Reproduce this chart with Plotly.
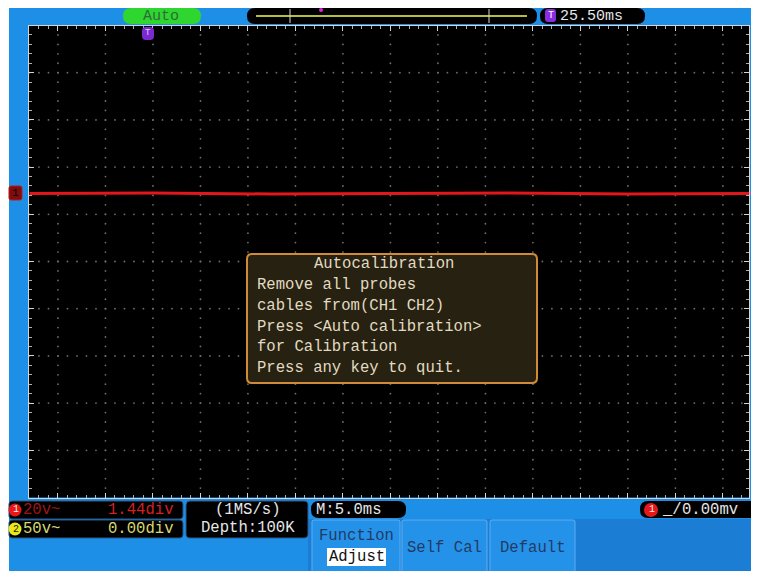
import plotly.graph_objects as go

# -------------------------
# data
# -------------------------
PAGE_W, PAGE_H = 759, 571
OFF = 8  # browser body margin
W, H = PAGE_W - OFF, PAGE_H - OFF

# ch1 trace, in divisions (x: time div from centre, y: volts div from centre)
ch1_time_div = [-7.6, -5.0, -2.5, 0.0, 2.5, 5.0, 7.55]
ch1_level_div = [1.44, 1.45, 1.43, 1.44, 1.45, 1.43, 1.44]

dialog_title = "Autocalibration"
dialog_lines = [
    "Remove all probes",
    "cables from(CH1 CH2)",
    "Press <Auto calibration>",
    "for Calibration",
    "Press any key to quit.",
]

ch_rows = [("1", "20v~", "1.44div"), ("2", "50v~", "0.00div")]
acq_lines = ["(1MS/s)", "Depth:100K"]
timebase = "M:5.0ms"
trig_pos = "25.50ms"
trig_level = "0.00mv"
buttons = ["Self Cal", "Default"]

BLUE = "#1d8fe6"
MONO = "Liberation Mono, DejaVu Sans Mono, monospace"
FS = 15.6  # screen font size


# positions below are page pixels of the reference screenshot
def px(x):
    return (x - OFF) / W


def py(y):
    return 1 - (y - OFF) / H


def rrect(x0, y0, x1, y1, r):
    # rounded rectangle as svg path in paper coords (pixel input)
    p = lambda x, y: f"{px(x):.5f},{py(y):.5f}"
    return (f"M{p(x0 + r, y0)} L{p(x1 - r, y0)} Q{p(x1, y0)} {p(x1, y0 + r)} "
            f"L{p(x1, y1 - r)} Q{p(x1, y1)} {p(x1 - r, y1)} L{p(x0 + r, y1)} "
            f"Q{p(x0, y1)} {p(x0, y1 - r)} L{p(x0, y0 + r)} Q{p(x0, y0)} {p(x0 + r, y0)} Z")


shapes = []
annotations = []


def box(x0, y0, x1, y1, fill, r=0, line=None, lw=1):
    shapes.append(dict(type="path", path=rrect(x0, y0, x1, y1, r), xref="paper", yref="paper",
                       fillcolor=fill, line=dict(color=line or fill, width=lw if line else 0)))


def text(x, y, s, color="#e6e6e6", size=FS, anchor="left", bg=None):
    annotations.append(dict(x=px(x), y=py(y), xref="paper", yref="paper", text=s, showarrow=False,
                            xanchor=anchor, yanchor="middle", bgcolor=bg,
                            font=dict(family=MONO, size=size, color=color)))


def circle(cx, cy, r, fill, label, lcolor):
    shapes.append(dict(type="circle", xref="paper", yref="paper", x0=px(cx - r), x1=px(cx + r),
                       y0=py(cy + r), y1=py(cy - r), fillcolor=fill, line=dict(width=0)))
    text(cx + 0.5, cy, label, lcolor, 10, "center")


fig = go.Figure()

# grid dots (every 0.2 div along each major division line)
gx, gy = [], []
for i in range(-7, 8):
    for k in range(-24, 25):
        gx.append(i); gy.append(k / 5)
for j in range(-4, 5):
    for k in range(-38, 38):
        gx.append(k / 5); gy.append(j)
fig.add_trace(go.Scatter(x=gx, y=gy, mode="markers", hoverinfo="skip",
                         marker=dict(size=1.8, color="#6e6e6e")))

# channel 1 trace
fig.add_trace(go.Scatter(x=ch1_time_div, y=ch1_level_div, mode="lines",
                         line=dict(color="#e3161c", width=3), hoverinfo="skip"))

# thin white strip at the left edge of the capture
box(8, 8, 9, PAGE_H, "white")
# darker band under the soft keys
box(308, 519, PAGE_W, PAGE_H, "#1b7dd4")

# top bar
box(123, 8, 201, 24, "#2fd62f", r=8)
text(161, 16, "Auto", "#2e6b3c", 15, "center")
box(247, 8, 537, 24, "black", r=8)
shapes.append(dict(type="line", xref="paper", yref="paper", x0=px(256), x1=px(527), y0=py(16), y1=py(16),
                   line=dict(color="#b4bd3c", width=2)))
for tx in (290, 489):
    shapes.append(dict(type="line", xref="paper", yref="paper", x0=px(tx), x1=px(tx), y0=py(9), y1=py(23),
                       line=dict(color="#d8d8d8", width=1)))
shapes.append(dict(type="circle", xref="paper", yref="paper", x0=px(319), x1=px(323), y0=py(12), y1=py(8),
                   fillcolor="#e020e0", line=dict(width=0)))
box(540, 8, 645, 24, "black", r=8)
box(545, 9, 556, 22, "#8a2ce0", r=3)
text(550.5, 15.5, "T", "white", 10, "center")
text(558, 16, trig_pos, "#e6e6e6", 15)

# trigger-position marker at screen top
box(142, 27, 154, 40, "#7a2ad0", r=4)
text(148, 33.5, "T", "#e0d0ff", 9, "center")

# ch1 ground marker and trigger level arrow
box(9, 186, 22, 200, "#7b0f0f", r=2, line="#c81818", lw=1)
text(15.5, 193, "1", "#1a0000", 11, "center")
shapes.append(dict(type="path", xref="paper", yref="paper",
                   path=f"M{px(749)},{py(193)} L{px(758)},{py(188)} L{px(758)},{py(198)} Z",
                   fillcolor="#e040e0", line=dict(width=0)))

# autocalibration dialog
box(247, 254, 537, 383, "#262110", r=5, line="#d08a3a", lw=2)
text(384, 264, dialog_title, "#e2dac2", FS, "center")
for i, s in enumerate(dialog_lines):
    text(255, 285 + i * 20.8, s, "#e2dac2", FS)

# bottom status boxes
box(9, 501, 183, 519, "black", r=3, line="#2a5a8a")
box(9, 520, 183, 538, "black", r=3, line="#2a5a8a")
circle(15, 510, 6.5, "#e81818", ch_rows[0][0], "#f0f0f0")
text(21, 510, ch_rows[0][1], "#a01414")
text(176, 510, ch_rows[0][2], "#d42020", anchor="right")
circle(15, 529, 6.5, "#e8e81c", ch_rows[1][0], "#202000")
text(21, 529, ch_rows[1][1], "#d8d870")
text(176, 529, ch_rows[1][2], "#d8d870", anchor="right")

box(186, 501, 308, 538, "black", r=4, line="#2a5a8a")
text(248, 510, acq_lines[0], "#e6e6e6", anchor="center")
text(248, 528, acq_lines[1], "#e6e6e6", anchor="center")

box(311, 501, 406, 518, "black", r=8)
text(314, 510, timebase, "#e6e6e6")

box(640, 501, 758, 518, "black", r=8)
circle(651, 510, 7, "#e81818", "1", "#f0f0f0")
text(660, 510, "_/", "#e6e6e6")
text(680, 510, trig_level, "#e6e6e6")

# soft keys
box(312, 520, 400, 575, "#2592ea", r=2, line="#5fb0f0")
text(356, 536, "Function", "#243a62", anchor="center")
box(327, 548, 386, 566, "white")
text(356.5, 557, "Adjust", "#111111", anchor="center")
for i, lab in enumerate(buttons):
    x0 = 402 + i * 88
    box(x0, 520, x0 + 85, 575, "#2592ea", r=2, line="#5fb0f0")
    text(x0 + 42.5, 548, lab, "#243a62", anchor="center")

tick_style = dict(showgrid=False, zeroline=False, showticklabels=False,
                  showline=True, linecolor="#d4d4d4", linewidth=1, mirror="ticks",
                  ticks="inside", ticklen=5, tickcolor="#d4d4d4", tick0=0, dtick=1,
                  minor=dict(ticks="inside", ticklen=3, dtick=0.2, tickcolor="#b0b0b0"),
                  fixedrange=True)

fig.update_layout(
    width=W, height=H,
    margin=dict(l=0, r=0, t=0, b=0),
    paper_bgcolor=BLUE, plot_bgcolor="black",
    showlegend=False,
    xaxis=dict(tick_style, range=[-7.61, 7.55], domain=[px(29), px(749)]),
    yaxis=dict(tick_style, range=[-5.0, 5.0], domain=[py(497.5), py(25.5)]),
    shapes=shapes,
    annotations=annotations,
)

fig.write_html("out.html")
